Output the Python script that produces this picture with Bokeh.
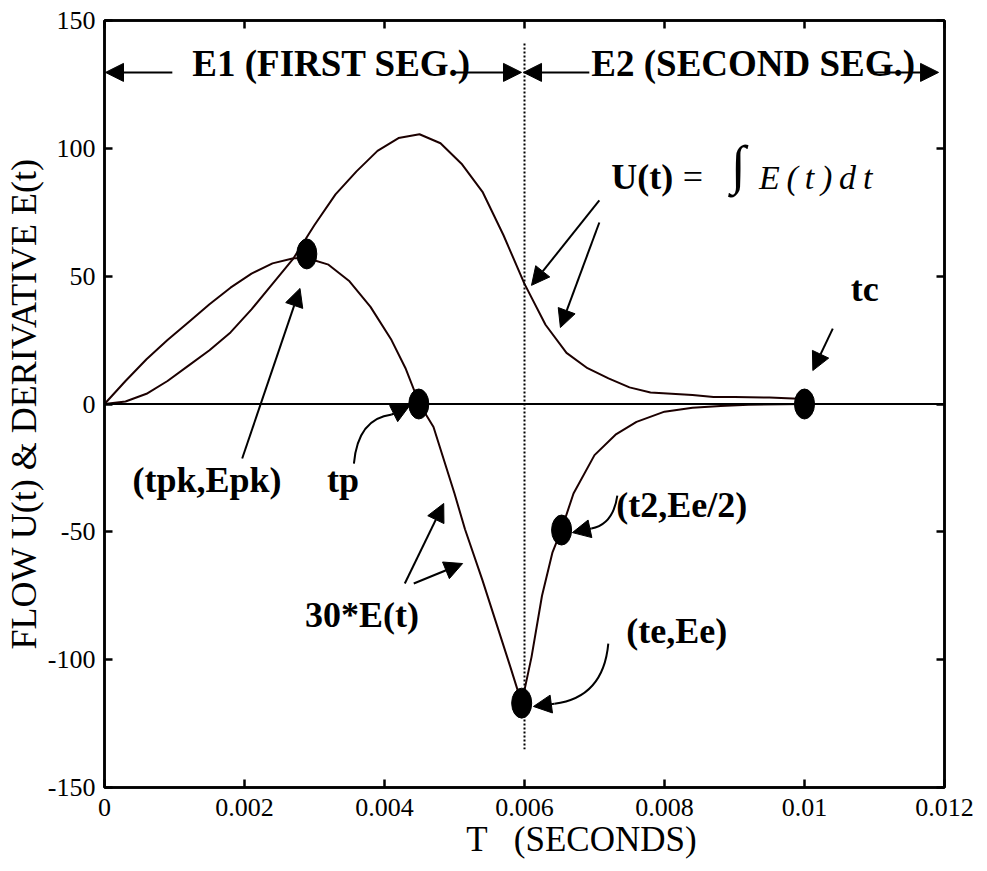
from bokeh.plotting import figure
from bokeh.models import (Range1d, FixedTicker, LinearAxis, CustomJSTickFormatter,
                          Label, Arrow, NormalHead, Span, ColumnDataSource)
from bokeh.embed import file_html
from bokeh.resources import INLINE

# ---------------- data ----------------
t_flow = [0.0, 0.0003, 0.0006, 0.0009, 0.0012, 0.0015, 0.0018, 0.0021, 0.0024, 0.0027,
          0.0030, 0.0033, 0.0036, 0.0039, 0.0042, 0.0045, 0.0048, 0.0051, 0.0054, 0.0057,
          0.0060, 0.0063, 0.0066, 0.0069, 0.0072, 0.0075, 0.0078, 0.0081, 0.0084, 0.0087,
          0.0090, 0.0095, 0.0100]
flow_u = [0.0, 1.0, 4.0, 9.0, 15.0, 21.0, 28.0, 37.0, 47.0, 57.0,
          70.0, 82.0, 91.0, 99.0, 104.0, 105.5, 102.0, 94.0, 83.0, 66.0,
          47.0, 31.0, 20.0, 14.0, 10.0, 6.5, 4.5, 4.0, 3.5, 2.7,
          2.7, 2.5, 2.0]

t_deriv = [0.0, 0.0003, 0.0006, 0.0009, 0.0012, 0.0015, 0.0018, 0.0021, 0.0024, 0.0027,
           0.0029, 0.0032, 0.0035, 0.0038, 0.0041, 0.0043, 0.0045, 0.0047, 0.0050, 0.00515,
           0.0054, 0.0056, 0.0058, 0.00596, 0.0061, 0.00625, 0.0064, 0.00653, 0.0067, 0.0070,
           0.0073, 0.0076, 0.0080, 0.0084, 0.0088, 0.0092, 0.0100]
deriv_30e = [0.0, 9.0, 17.5, 25.0, 32.0, 39.0, 45.5, 51.0, 55.0, 57.0,
             57.0, 54.5, 48.0, 38.0, 25.0, 14.0, 0.0, -9.0, -35.0, -49.0,
             -69.0, -86.0, -103.0, -117.0, -99.0, -75.0, -58.0, -49.0, -35.0, -20.0,
             -12.0, -7.0, -3.0, -1.5, -0.8, -0.3, 0.0]

point_names = ["(tpk,Epk)", "tp", "(te,Ee)", "(t2,Ee/2)", "tc"]
point_t = [0.00289, 0.00449, 0.00596, 0.00653, 0.0100]
point_v = [58.7, 0.0, -117.0, -49.3, 0.0]

segment_boundary = 0.006
boundary_top = 141
boundary_bottom = -135

x_ticks = [0, 0.002, 0.004, 0.006, 0.008, 0.01, 0.012]
y_ticks = [-150, -100, -50, 0, 50, 100, 150]

# ---------------- figure ----------------
SERIF = "Liberation Serif"
INK = "#1c0000"
NB = "\u00a0"

p = figure(width=987, height=871, output_backend="svg", toolbar_location=None,
           x_range=Range1d(0, 0.012), y_range=Range1d(-150, 150),
           min_border_left=102, min_border_right=43, min_border_top=20, min_border_bottom=84)
p.grid.visible = False
p.outline_line_color = "black"
p.outline_line_width = 2.5
p.background_fill_color = "white"
p.border_fill_color = "white"

xfmt = CustomJSTickFormatter(code="return (Math.round(tick*1000)/1000).toString();")
yfmt = CustomJSTickFormatter(code="return Math.round(tick).toString();")
blank = CustomJSTickFormatter(code="return '';")


def style_axis(ax):
    ax.axis_line_width = 2.5
    ax.axis_line_color = "black"
    ax.major_tick_line_width = 2.5
    ax.major_tick_line_color = "black"
    ax.major_tick_in = 8
    ax.major_tick_out = 0
    ax.minor_tick_line_color = None
    ax.major_label_text_font = SERIF
    ax.major_label_text_font_size = "26px"
    ax.major_label_text_color = "black"


xa = p.xaxis[0]
xa.ticker = FixedTicker(ticks=x_ticks)
xa.formatter = xfmt
style_axis(xa)
xa.major_label_standoff = 11
xa.axis_label = NB * 13 + "T" + NB * 3 + "(SECONDS)"
xa.axis_label_text_font = SERIF
xa.axis_label_text_font_size = "35px"
xa.axis_label_text_font_style = "normal"
xa.axis_label_text_color = "black"
xa.axis_label_standoff = 1

ya = p.yaxis[0]
ya.ticker = FixedTicker(ticks=y_ticks)
ya.formatter = yfmt
style_axis(ya)
ya.major_label_standoff = 9
ya.axis_label = "FLOW U(t) & DERIVATIVE E(t)"
ya.axis_label_text_font = SERIF
ya.axis_label_text_font_size = "36px"
ya.axis_label_text_font_style = "normal"
ya.axis_label_text_color = "black"
ya.axis_label_standoff = 1

top_ax = LinearAxis(ticker=FixedTicker(ticks=x_ticks), formatter=blank)
style_axis(top_ax)
top_ax.major_label_standoff = 0
top_ax.major_label_text_font_size = "1px"
p.add_layout(top_ax, "above")

right_ax = LinearAxis(ticker=FixedTicker(ticks=y_ticks), formatter=blank)
style_axis(right_ax)
right_ax.major_label_standoff = 0
right_ax.major_label_text_font_size = "1px"
p.add_layout(right_ax, "right")

# zero line
p.add_layout(Span(location=0, dimension="width", line_color="black", line_width=2))

# curves
p.line(t_flow, flow_u, line_color=INK, line_width=2)
p.line(t_deriv, deriv_30e, line_color=INK, line_width=2)

# segment boundary (dotted)
p.segment(x0=[segment_boundary], y0=[boundary_top], x1=[segment_boundary], y1=[boundary_bottom],
          line_color="black", line_width=2, line_dash="2 2")

# key points
pts = ColumnDataSource(dict(t=point_t, v=point_v, name=point_names))
p.ellipse(x="t", y="v", width=20, height=30, width_units="screen", height_units="screen",
          fill_color="black", line_color="black", source=pts)


def arrow(x0, y0, x1, y1, size=18):
    p.add_layout(Arrow(end=NormalHead(size=size, fill_color="black", line_color="black", line_width=1),
                       x_start=x0, y_start=y0, x_end=x1, y_end=y1,
                       line_color="black", line_width=2))


# top segment arrows
arrow(0.000969, 129.7, 0.0000143, 129.7)
arrow(0.004988, 129.7, 0.005957, 129.7)
arrow(0.006926, 129.7, 0.005986, 129.7)
arrow(0.010946, 129.7, 0.011915, 129.7)

# straight pointer arrows
arrow(0.001967, -21.3, 0.002793, 45.2)    # (tpk,Epk)
arrow(0.007069, 79.6, 0.0061, 46.4)       # U(t) 1
arrow(0.007069, 71.0, 0.006513, 29.9)     # U(t) 2
arrow(0.010404, 29.5, 0.010119, 13.1)     # tc
arrow(0.00429, -70.2, 0.004846, -38.9)    # 30*E(t) 1
arrow(0.004418, -70.2, 0.005116, -62.4)   # 30*E(t) 2

# curved arrows
p.quadratic(x0=[0.003563], y0=[-23.3], x1=[0.004105], y1=[-4.1], cx=[0.00362], cy=[-5.7],
            line_color="black", line_width=2)
arrow(0.004105, -4.1, 0.004361, -0.6)     # tp
p.quadratic(x0=[0.007326], y0=[-35.8], x1=[0.006955], y1=[-48.7], cx=[0.007268], cy=[-47.1],
            line_color="black", line_width=2)
arrow(0.006955, -48.7, 0.006684, -50.3)   # (t2,Ee/2)
p.quadratic(x0=[0.007197], y0=[-93.7], x1=[0.006428], y1=[-117.2], cx=[0.007126], cy=[-114.8],
            line_color="black", line_width=2)
arrow(0.006428, -117.2, 0.006128, -118.3)  # (te,Ee)


def label(x, y, text, size="36px", style="bold", font=SERIF):
    p.add_layout(Label(x=x, y=y, text=text, text_font=font, text_font_size=size,
                       text_font_style=style, text_color="black",
                       text_baseline="alphabetic", text_align="left"))


label(0.001254, 133.2, "E1 (FIRST SEG.)", size="37px")
label(0.006955, 133.2, "E2 (SECOND SEG.)", size="37px")
label(0.00724, 88.6, "U(t)")
label(0.00826, 88.6, "=", style="normal")
label(0.00895, 93.3, "\u222b", size="54px", style="normal")
label(0.00935, 88.6, "E\u2009(\u2009t\u2009)\u2009d\u2009t", size="34px", style="italic")
label(0.01066, 44.8, "tc")
label(0.000399, -29.9, "(tpk,Epk)")
label(0.003178, -29.9, "tp")
label(0.002865, -82.7, "30*E(t)")
label(0.007454, -88.6, "(te,Ee)")
label(0.007311, -39.7, "(t2,Ee/2)")

open("out.html", "w").write(file_html(p, INLINE))
